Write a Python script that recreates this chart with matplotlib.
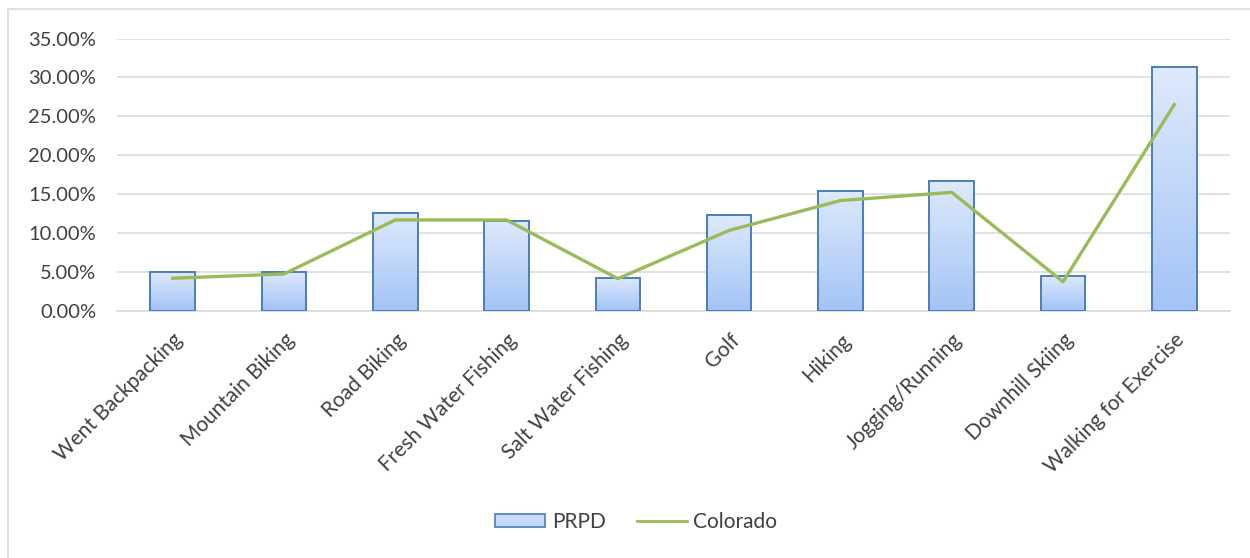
import matplotlib
matplotlib.use('Agg')
import matplotlib.pyplot as plt
import numpy as np
from matplotlib.patches import Rectangle, Patch
from matplotlib.lines import Line2D
from matplotlib.colors import LinearSegmentedColormap
from matplotlib.ticker import FuncFormatter

activities = ['Went Backpacking', 'Mountain Biking', 'Road Biking', 'Fresh Water Fishing',
              'Salt Water Fishing', 'Golf', 'Hiking', 'Jogging/Running', 'Downhill Skiing',
              'Walking for Exercise']
prpd = [4.9, 4.9, 12.6, 11.55, 4.15, 12.35, 15.4, 16.65, 4.4, 31.3]
colorado = [4.15, 4.7, 11.65, 11.65, 4.1, 10.3, 14.15, 15.2, 3.7, 26.5]
y_ticks = [0, 5, 10, 15, 20, 25, 30, 35]

plt.rcParams['font.family'] = ['Lato', 'DejaVu Sans']
text_col = '#404040'

fig = plt.figure(figsize=(12.5, 5.58), dpi=100)
# chart frame (only left and top edges fall inside the picture)
fig.patches.append(Rectangle((8 / 1250, -0.1), 1.2, 1 - 9 / 558 + 0.1, transform=fig.transFigure,
                             fill=False, edgecolor='#d9d9d9', linewidth=1.2))

ax = fig.add_axes([117 / 1250, 1 - 310.5 / 558, (1230 - 117) / 1250, (310.5 - 38.5) / 558])

x = np.arange(len(activities))
bars = ax.bar(x, prpd, width=0.4, facecolor='none', edgecolor='#4a7ebb', linewidth=1.4, zorder=3)

# vertical gradient inside each bar
cmap = LinearSegmentedColormap.from_list('bargrad', ['#a3c4f6', '#dfeafc'])
grad = np.linspace(0, 1, 256).reshape(-1, 1)
for b in bars:
    x0, y0 = b.get_x(), b.get_y()
    w, h = b.get_width(), b.get_height()
    im = ax.imshow(grad, cmap=cmap, origin='lower', aspect='auto',
                   extent=[x0, x0 + w, y0, y0 + h], zorder=2)
    im.set_clip_path(b)

ax.plot(x, colorado, color='#9bbb59', linewidth=2.4, zorder=4)

ax.set_xlim(-0.5, len(activities) - 0.5)
ax.set_ylim(0, 35)
ax.set_yticks(y_ticks)
ax.yaxis.set_major_formatter(FuncFormatter(lambda v, p: f'{v:.2f}%'))
ax.grid(axis='y', color='#d9d9d9', linewidth=1.1, zorder=0)
ax.set_axisbelow(True)
for s in ['top', 'right', 'left']:
    ax.spines[s].set_visible(False)
ax.spines['bottom'].set_color('#d9d9d9')
ax.spines['bottom'].set_linewidth(1.1)
ax.tick_params(axis='both', length=0, colors=text_col)
ax.tick_params(axis='y', pad=15, labelsize=14.5)
ax.set_xticks(x)
ax.set_xticklabels(activities, rotation=45, ha='right', va='top', rotation_mode='anchor')
ax.tick_params(axis='x', pad=14, labelsize=15)

handles = [Patch(facecolor='#c7dbfa', edgecolor='#4a7ebb', linewidth=1.2),
           Line2D([], [], color='#9bbb59', linewidth=2.0)]
leg = fig.legend(handles, ['PRPD', 'Colorado'], loc='center', bbox_to_anchor=(0.509, 1 - 522 / 558),
                 ncol=2, frameon=False, fontsize=15, handlelength=2.4, handleheight=0.6,
                 columnspacing=1.5, handletextpad=0.3)
for t in leg.get_texts():
    t.set_color(text_col)

fig.savefig('out.png', dpi=100)
